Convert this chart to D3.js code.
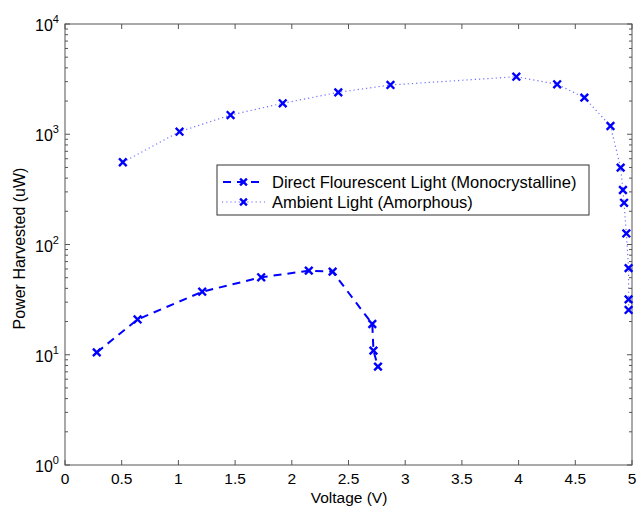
<!DOCTYPE html>
<html>
<head>
<meta charset="utf-8">
<script src="https://cdn.jsdelivr.net/npm/d3@7"></script>
<style>
  body { margin: 0; background: #fff; }
  text { font-family: "Liberation Sans", Arial, sans-serif; }
</style>
</head>
<body>
<svg id="chart" width="638" height="508"></svg>
<script>
// Direct flourescent light, monocrystalline panel
const monoV = [0.28, 0.64, 1.21, 1.73, 2.15, 2.36, 2.71, 2.72, 2.76];
const monoP = [10.5, 20.9, 37.3, 50.4, 57.9, 56.7, 19.0, 10.9, 7.8];

// Ambient light, amorphous panel
const amorV = [0.51, 1.01, 1.46, 1.92, 2.41, 2.87, 3.98, 4.34, 4.58, 4.81, 4.90, 4.92, 4.93, 4.95, 4.97, 4.97, 4.97];
const amorP = [557, 1055, 1494, 1908, 2400, 2799, 3326, 2838, 2147, 1188, 498, 312, 239, 126, 61, 31.8, 25.5];

const xTicks = [0, 0.5, 1, 1.5, 2, 2.5, 3, 3.5, 4, 4.5, 5];
const yTicks = [1, 10, 100, 1000, 10000];
const legendLabels = ["Direct Flourescent Light (Monocrystalline)", "Ambient Light (Amorphous)"];

const svg = d3.select("#chart");
const margin = {left: 65, top: 24, right: 6, bottom: 43};
const W = 638, H = 508;
const x = d3.scaleLinear().domain([0, 5]).range([margin.left, W - margin.right]);
const y = d3.scaleLog().domain([1, 10000]).range([H - margin.bottom, margin.top]);

const blue = "#0000ff";
const axisColor = "#555";
const fs = 16;

// box
svg.append("rect")
  .attr("x", x(0)).attr("y", y(10000))
  .attr("width", x(5) - x(0)).attr("height", y(1) - y(10000))
  .attr("fill", "none").attr("stroke", axisColor).attr("stroke-width", 1);

// x ticks (bottom + top, pointing inwards)
const tl = 5;
const gx = svg.append("g");
xTicks.forEach(t => {
  gx.append("line").attr("x1", x(t)).attr("x2", x(t)).attr("y1", y(1)).attr("y2", y(1) - tl)
    .attr("stroke", axisColor);
  gx.append("line").attr("x1", x(t)).attr("x2", x(t)).attr("y1", y(10000)).attr("y2", y(10000) + tl)
    .attr("stroke", axisColor);
  gx.append("text").attr("x", x(t)).attr("y", y(1) + 19)
    .attr("text-anchor", "middle").attr("font-size", 15.5).text(t);
});

// y ticks major + minor
const gy = svg.append("g");
const minor = [];
for (let e = 0; e < 4; e++) for (let k = 2; k <= 9; k++) minor.push(k * Math.pow(10, e));
minor.forEach(v => {
  gy.append("line").attr("x1", x(0)).attr("x2", x(0) + 3).attr("y1", y(v)).attr("y2", y(v)).attr("stroke", axisColor);
  gy.append("line").attr("x1", x(5)).attr("x2", x(5) - 3).attr("y1", y(v)).attr("y2", y(v)).attr("stroke", axisColor);
});
yTicks.forEach(v => {
  gy.append("line").attr("x1", x(0)).attr("x2", x(0) + tl).attr("y1", y(v)).attr("y2", y(v)).attr("stroke", axisColor);
  gy.append("line").attr("x1", x(5)).attr("x2", x(5) - tl).attr("y1", y(v)).attr("y2", y(v)).attr("stroke", axisColor);
  const t = gy.append("text").attr("x", 35).attr("y", y(v) + 7).attr("font-size", fs);
  t.append("tspan").text("10");
  t.append("tspan").attr("dy", -8).attr("font-size", 11).text(Math.round(Math.log10(v)));
});

// axis labels
svg.append("text").attr("x", (x(0) + x(5)) / 2 + 0.5).attr("y", 503)
  .attr("text-anchor", "middle").attr("font-size", 15.5).text("Voltage (V)");
svg.append("text").attr("transform", `translate(25,${(y(1) + y(10000)) / 2 + 4}) rotate(-90)`)
  .attr("text-anchor", "middle").attr("font-size", fs).text("Power Harvested (uW)");

const line = d3.line().x(d => x(d[0])).y(d => y(d[1]));
const mono = monoV.map((v, i) => [v, monoP[i]]);
const amor = amorV.map((v, i) => [v, amorP[i]]);

svg.append("path").datum(amor).attr("d", line).attr("fill", "none")
  .attr("stroke", "#6f6fff").attr("stroke-width", 1.2).attr("stroke-dasharray", "1.2,3");
svg.append("path").datum(mono).attr("d", line).attr("fill", "none")
  .attr("stroke", blue).attr("stroke-width", 2).attr("stroke-dasharray", "8,6");

const cross = (g, cx, cy, r) => {
  g.append("path").attr("d", `M${cx - r},${cy - r}L${cx + r},${cy + r}M${cx - r},${cy + r}L${cx + r},${cy - r}`)
    .attr("stroke", blue).attr("stroke-width", 2.4).attr("fill", "none");
};
const gm = svg.append("g");
mono.concat(amor).forEach(d => cross(gm, x(d[0]), y(d[1]), 3.8));

// legend
const lg = svg.append("g");
lg.append("rect").attr("x", 217).attr("y", 165).attr("width", 372).attr("height", 50)
  .attr("fill", "#fff").attr("stroke", "#333").attr("stroke-width", 1);
const styles = [
  {dash: "8,6", w: 2, c: blue},
  {dash: "1.2,3", w: 1.2, c: "#6f6fff"}
];
legendLabels.forEach((lab, i) => {
  const ly = 182 + i * 20;
  lg.append("line").attr("x1", 222).attr("x2", 265).attr("y1", ly).attr("y2", ly)
    .attr("stroke", styles[i].c).attr("stroke-width", styles[i].w).attr("stroke-dasharray", styles[i].dash)
    .attr("stroke-dashoffset", i === 0 ? -1 : 0);
  cross(lg, 243.5, ly, 3.4);
  lg.append("text").attr("x", 272).attr("y", ly + 6).attr("font-size", 16.5).text(lab);
});
</script>
</body>
</html>
